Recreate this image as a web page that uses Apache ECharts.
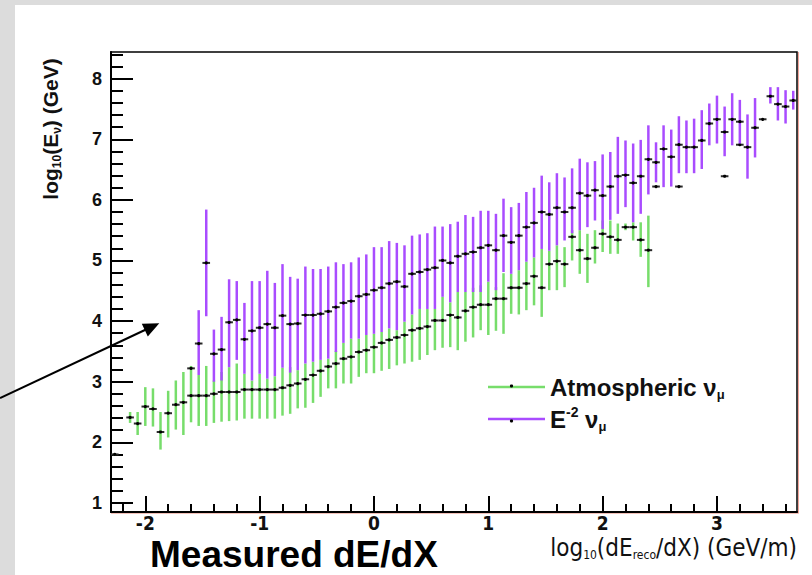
<!DOCTYPE html>
<html>
<head>
<meta charset="utf-8">
<title>dE/dX vs neutrino energy</title>
<script src="https://cdn.jsdelivr.net/npm/echarts@6/dist/echarts.min.js"></script>
<style>
  * {margin: 0; padding: 0;}
  body {background: #fff;}
  #chart {width: 812px; height: 575px;}
</style>
</head>
<body>
<div id="chart"></div>
<script>
// histogram bins are 1/15 wide, x range -2.3 .. 3.7
var binWidth = 1 / 15;

var xMajor = [-2, -1, 0, 1, 2, 3];
var xMinor = [-2.2, -1.8, -1.6, -1.4, -1.2, -0.8, -0.6, -0.4, -0.2, 0.2, 0.4, 0.6, 0.8,
              1.2, 1.4, 1.6, 1.8, 2.2, 2.4, 2.6, 2.8, 3.2, 3.4, 3.6];
var yMajor = [1, 2, 3, 4, 5, 6, 7, 8];
var yMinor = [1.2, 1.4, 1.6, 1.8, 2.2, 2.4, 2.6, 2.8, 3.2, 3.4, 3.6, 3.8, 4.2, 4.4, 4.6, 4.8,
              5.2, 5.4, 5.6, 5.8, 6.2, 6.4, 6.6, 6.8, 7.2, 7.4, 7.6, 7.8, 8.2, 8.4];

// Atmospheric nu_mu
var atmX = [-2.267, -2.133, -2.067, -2.0, -1.933, -1.867, -1.8, -1.733, -1.667, -1.6,
            -1.533, -1.467, -1.4, -1.333, -1.267, -1.2, -1.133, -1.067, -1.0, -0.933,
            -0.867, -0.8, -0.733, -0.667, -0.6, -0.533, -0.467, -0.4, -0.333, -0.267,
            -0.2, -0.133, -0.067, 0.0, 0.067, 0.133, 0.2, 0.267, 0.333, 0.4,
            0.467, 0.533, 0.6, 0.667, 0.733, 0.8, 0.867, 0.933, 1.0, 1.067,
            1.133, 1.2, 1.267, 1.333, 1.4, 1.467, 1.533, 1.6, 1.667, 1.733,
            1.8, 1.867, 1.933, 2.0, 2.067, 2.133, 2.2, 2.267, 2.333, 2.4,
            2.467, 2.667, 3.067, 3.2];
var atmY = [1.80, 2.41, 2.31, 2.59, 2.55, 2.17, 2.48, 2.62, 2.66, 2.77,
            2.77, 2.77, 2.80, 2.83, 2.83, 2.83, 2.87, 2.87, 2.87, 2.87,
            2.87, 2.90, 2.94, 2.97, 3.04, 3.11, 3.18, 3.25, 3.30, 3.38,
            3.41, 3.49, 3.52, 3.57, 3.64, 3.69, 3.73, 3.77, 3.85, 3.88,
            3.91, 4.01, 4.01, 4.10, 4.06, 4.17, 4.23, 4.27, 4.27, 4.37,
            4.37, 4.55, 4.55, 4.62, 4.74, 4.55, 4.94, 4.99, 4.94, 5.39,
            5.17, 5.03, 5.21, 5.44, 5.39, 5.34, 5.55, 5.55, 5.34, 5.17,
            6.22, 6.22, 6.39, 6.91];
var atmLo = [1.78, 2.32, 2.12, 2.27, 2.26, 1.88, 2.08, 2.21, 2.12, 2.33,
             2.27, 2.27, 2.32, 2.34, 2.35, 2.36, 2.39, 2.39, 2.39, 2.39,
             2.39, 2.44, 2.47, 2.56, 2.57, 2.65, 2.75, 2.89, 2.89, 2.97,
             2.97, 3.08, 3.14, 3.14, 3.18, 3.21, 3.27, 3.30, 3.33, 3.36,
             3.44, 3.52, 3.56, 3.57, 3.52, 3.66, 3.73, 3.85, 3.77, 3.84,
             3.79, 4.12, 4.11, 4.18, 4.26, 4.07, 4.51, 4.51, 4.56, 5.00,
             4.78, 4.63, 4.95, 5.14, 5.11, 5.11, 5.50, 5.33, 5.06, 4.56,
             6.22, 6.22, 6.39, 6.91];
var atmHi = [1.82, 2.50, 2.50, 2.91, 2.89, 2.50, 2.85, 3.02, 3.16, 3.26,
             3.11, 3.26, 3.02, 3.16, 3.24, 3.30, 3.13, 3.02, 3.13, 3.05,
             3.09, 3.23, 3.24, 3.19, 3.30, 3.33, 3.36, 3.38, 3.51, 3.64,
             3.71, 3.71, 3.77, 3.79, 3.82, 3.88, 3.85, 3.99, 4.11, 4.20,
             4.20, 4.20, 4.40, 4.31, 4.48, 4.48, 4.55, 4.59, 4.65, 4.56,
             4.79, 4.78, 4.84, 4.98, 5.05, 5.19, 5.16, 5.25, 5.22, 5.50,
             5.50, 5.44, 5.50, 5.66, 5.66, 5.61, 5.61, 5.63, 5.63, 5.74,
             6.22, 6.22, 6.39, 6.91];

// E^-2 nu_mu
var e2X = [-1.6, -1.533, -1.467, -1.4, -1.333, -1.267, -1.2, -1.133, -1.067, -1.0,
           -0.933, -0.867, -0.8, -0.733, -0.667, -0.6, -0.533, -0.467, -0.4, -0.333,
           -0.267, -0.2, -0.133, -0.067, 0.0, 0.067, 0.133, 0.2, 0.267, 0.333,
           0.4, 0.467, 0.533, 0.6, 0.667, 0.733, 0.8, 0.867, 0.933, 1.0,
           1.067, 1.133, 1.2, 1.267, 1.333, 1.4, 1.467, 1.533, 1.6, 1.667,
           1.733, 1.8, 1.867, 1.933, 2.0, 2.067, 2.133, 2.2, 2.267, 2.333,
           2.4, 2.467, 2.533, 2.6, 2.667, 2.733, 2.8, 2.867, 2.933, 3.0,
           3.067, 3.133, 3.2, 3.267, 3.333, 3.4, 3.467, 3.533, 3.6, 3.667];
var e2Y = [3.22, 3.63, 4.96, 3.46, 3.53, 3.98, 4.02, 3.70, 3.84, 3.89,
           3.95, 3.89, 4.09, 3.95, 3.96, 4.10, 4.10, 4.12, 4.16, 4.23,
           4.30, 4.33, 4.41, 4.44, 4.51, 4.55, 4.62, 4.65, 4.57, 4.78,
           4.81, 4.85, 4.88, 5.00, 4.96, 5.07, 5.11, 5.14, 5.21, 5.25,
           5.17, 5.41, 5.30, 5.41, 5.55, 5.62, 5.80, 5.76, 5.87, 5.80,
           5.87, 6.11, 6.07, 6.16, 6.07, 6.22, 6.39, 6.41, 6.28, 6.39,
           6.67, 6.62, 6.84, 6.71, 6.91, 6.87, 6.87, 6.98, 7.26, 7.33,
           7.12, 7.33, 7.29, 6.87, 7.19, 7.33, 7.71, 7.58, 7.54, 7.64];
var e2Lo = [3.22, 3.11, 4.08, 3.00, 3.02, 3.24, 3.36, 3.13, 3.02, 3.13,
            3.05, 3.09, 3.23, 3.15, 3.19, 3.30, 3.33, 3.36, 3.38, 3.49,
            3.64, 3.71, 3.71, 3.77, 3.79, 3.82, 3.88, 3.85, 3.99, 4.11,
            4.20, 4.20, 4.20, 4.40, 4.31, 4.48, 4.48, 4.48, 4.48, 4.65,
            4.51, 4.81, 4.78, 4.84, 4.98, 5.05, 5.19, 5.16, 5.25, 5.33,
            5.45, 5.50, 5.55, 5.66, 5.52, 5.67, 5.77, 5.88, 5.63, 5.77,
            6.09, 6.29, 6.21, 6.22, 6.44, 6.44, 6.44, 6.51, 6.90, 6.93,
            6.72, 6.90, 6.93, 6.35, 6.70, 7.33, 7.59, 7.31, 7.26, 7.49];
var e2Hi = [3.22, 4.18, 5.84, 3.86, 4.07, 4.69, 4.66, 4.30, 4.66, 4.66,
            4.83, 4.63, 4.94, 4.73, 4.70, 4.90, 4.86, 4.86, 4.90, 4.97,
            4.94, 4.97, 5.05, 5.10, 5.22, 5.22, 5.32, 5.29, 5.25, 5.41,
            5.43, 5.45, 5.56, 5.56, 5.60, 5.64, 5.75, 5.72, 5.82, 5.82,
            5.77, 6.02, 5.88, 5.95, 6.13, 6.20, 6.40, 6.29, 6.44, 6.37,
            6.52, 6.68, 6.62, 6.64, 6.75, 6.79, 7.04, 6.98, 6.93, 6.99,
            7.23, 6.95, 7.23, 7.16, 7.38, 7.31, 7.34, 7.48, 7.59, 7.72,
            7.54, 7.76, 7.65, 7.41, 7.68, 7.33, 7.86, 7.86, 7.81, 7.80];

var atmName = 'Atmospheric νμ';
var e2Name = 'E-2 νμ';
var font = '"Liberation Sans", Arial, sans-serif';
var narrow = '"Liberation Sans Narrow", "DejaVu Sans Condensed", "Liberation Sans", sans-serif';

function rows(xs, ys, lo, hi) {
  return xs.map(function (x, k) { return [x, ys[k], lo[k], hi[k]]; });
}

function errorBars(color) {
  return function (params, api) {
    var x = api.value(0), y = api.value(1);
    var top = api.coord([x, api.value(3)]);
    var bot = api.coord([x, api.value(2)]);
    var left = api.coord([x - binWidth / 2, y]);
    var right = api.coord([x + binWidth / 2, y]);
    return {
      type: 'group',
      children: [
        {type: 'line', shape: {x1: top[0], y1: top[1], x2: bot[0], y2: bot[1]},
         style: {stroke: color, lineWidth: 2.5}},
        {type: 'line', shape: {x1: left[0], y1: left[1], x2: right[0], y2: right[1]},
         style: {stroke: '#2a2a2a', lineWidth: 2}},
        {type: 'circle', shape: {cx: (left[0] + right[0]) / 2, cy: left[1], r: 1.6},
         style: {fill: '#000'}}
      ]
    };
  };
}

var chart = echarts.init(document.getElementById('chart'), null, {renderer: 'svg'});

var tickLine = {color: '#000', width: 2};

var option = {
  animation: false,
  backgroundColor: '#fff',
  grid: {left: 111, top: 52, right: 15, bottom: 63, show: true,
         borderColor: '#000', borderWidth: 1.5, backgroundColor: '#fff'},
  xAxis: [
    {type: 'value', min: -2.3, max: 3.7, position: 'bottom',
     axisLine: {show: true, onZero: false, lineStyle: tickLine},
     axisTick: {show: true, inside: true, length: 16, customValues: xMajor, lineStyle: tickLine},
     axisLabel: {customValues: xMajor, margin: 2, fontSize: 19, fontWeight: 'bold',
                 color: '#111', fontFamily: narrow, lineHeight: 18},
     splitLine: {show: false}},
    {type: 'value', min: -2.3, max: 3.7, position: 'bottom',
     axisLine: {show: false, onZero: false},
     axisTick: {show: true, inside: true, length: 8, customValues: xMinor, lineStyle: tickLine},
     axisLabel: {show: false, customValues: xMinor},
     splitLine: {show: false}}
  ],
  yAxis: [
    {type: 'value', min: 0.85, max: 8.44, position: 'left',
     axisLine: {show: true, onZero: false, lineStyle: tickLine},
     axisTick: {show: true, inside: true, length: 22, customValues: yMajor, lineStyle: tickLine},
     axisLabel: {customValues: yMajor, margin: 9, fontSize: 18, fontWeight: 'bold',
                 color: '#111', fontFamily: font},
     splitLine: {show: false}},
    {type: 'value', min: 0.85, max: 8.44, position: 'left',
     axisLine: {show: false, onZero: false},
     axisTick: {show: true, inside: true, length: 12, customValues: yMinor, lineStyle: tickLine},
     axisLabel: {show: false, customValues: yMinor},
     splitLine: {show: false}}
  ],
  legend: {
    left: 483, top: 370, orient: 'vertical', itemGap: 4,
    itemWidth: 57, itemHeight: 2.5, icon: 'rect',
    data: [atmName, e2Name],
    formatter: function (name) {
      return name === atmName ? '{t|Atmospheric ν}{s|μ}' : '{t|E}{p|-2}{t| ν}{s|μ}';
    },
    textStyle: {
      fontFamily: font, fontWeight: 'bold', fontSize: 24, color: '#111',
      rich: {
        t: {fontFamily: font, fontWeight: 'bold', fontSize: 24, lineHeight: 28, color: '#111'},
        s: {fontFamily: font, fontWeight: 'bold', fontSize: 13, lineHeight: 15, verticalAlign: 'bottom', color: '#111'},
        p: {fontFamily: font, fontWeight: 'bold', fontSize: 14, lineHeight: 15, verticalAlign: 'top', color: '#111'}
      }
    }
  },
  graphic: [
    {type: 'rect', shape: {x: 0, y: 0, width: 15, height: 575}, style: {fill: '#dcdcdc'}, z: 0},
    {type: 'rect', shape: {x: 0, y: 0, width: 812, height: 5}, style: {fill: '#dcdcdc'}, z: 0},
    {type: 'line', z: 5, shape: {x1: 798.5, y1: 52, x2: 798.5, y2: 513.5},
     style: {stroke: '#f2a59a', lineWidth: 1}},
    {type: 'line', z: 5, shape: {x1: 111, y1: 513.5, x2: 798.5, y2: 513.5},
     style: {stroke: '#f2c0b8', lineWidth: 1}},
    // marker dots on the legend lines
    {type: 'circle', z: 30, shape: {cx: 511.5, cy: 386, r: 1.6}, style: {fill: '#000'}},
    {type: 'circle', z: 30, shape: {cx: 511.5, cy: 421, r: 1.6}, style: {fill: '#000'}},
    {type: 'text', x: 50, y: 129, rotation: Math.PI / 2, z: 10,
     style: {text: '{a|log}{s|10}{a|(E}{s|ν}{a|) (GeV)}', textAlign: 'center', textVerticalAlign: 'middle',
             rich: {
               a: {fontFamily: font, fontWeight: 'bold', fontSize: 21, lineHeight: 26, fill: '#111'},
               s: {fontFamily: font, fontWeight: 'bold', fontSize: 12, lineHeight: 14, verticalAlign: 'bottom', fill: '#111'}
             }}},
    {type: 'text', x: 797, y: 548, z: 10,
     style: {text: '{a|log}{s|10}{a|(dE}{s|reco}{a|/dX) (GeV/m)}', textAlign: 'right', textVerticalAlign: 'middle',
             rich: {
               a: {fontFamily: narrow, fontSize: 24, lineHeight: 26, fill: '#111'},
               s: {fontFamily: narrow, fontSize: 12, lineHeight: 13, verticalAlign: 'bottom', fill: '#111'}
             }}},
    {type: 'text', x: 150, y: 554, z: 10,
     style: {text: 'Measured dE/dX', fontFamily: font, fontWeight: 'bold', fontSize: 37,
             lineHeight: 30, fill: '#000', textAlign: 'left', textVerticalAlign: 'middle'}},
    {type: 'line', z: 20, shape: {x1: 0, y1: 398, x2: 146, y2: 329.5},
     style: {stroke: '#000', lineWidth: 2}},
    {type: 'polygon', z: 20, shape: {points: [[159.3, 323.3], [147.8, 336.4], [141.8, 323.8]]},
     style: {fill: '#000'}}
  ],
  series: [
    {name: atmName, type: 'custom', xAxisIndex: 0, yAxisIndex: 0,
     itemStyle: {color: '#77dd6b'}, clip: true,
     renderItem: errorBars('#77dd6b'),
     encode: {x: 0, y: 1},
     data: rows(atmX, atmY, atmLo, atmHi)},
    {name: e2Name, type: 'custom', xAxisIndex: 0, yAxisIndex: 0,
     itemStyle: {color: '#a94cff'}, clip: true,
     renderItem: errorBars('#a94cff'),
     encode: {x: 0, y: 1},
     data: rows(e2X, e2Y, e2Lo, e2Hi)}
  ]
};

chart.setOption(option);
</script>
</body>
</html>
